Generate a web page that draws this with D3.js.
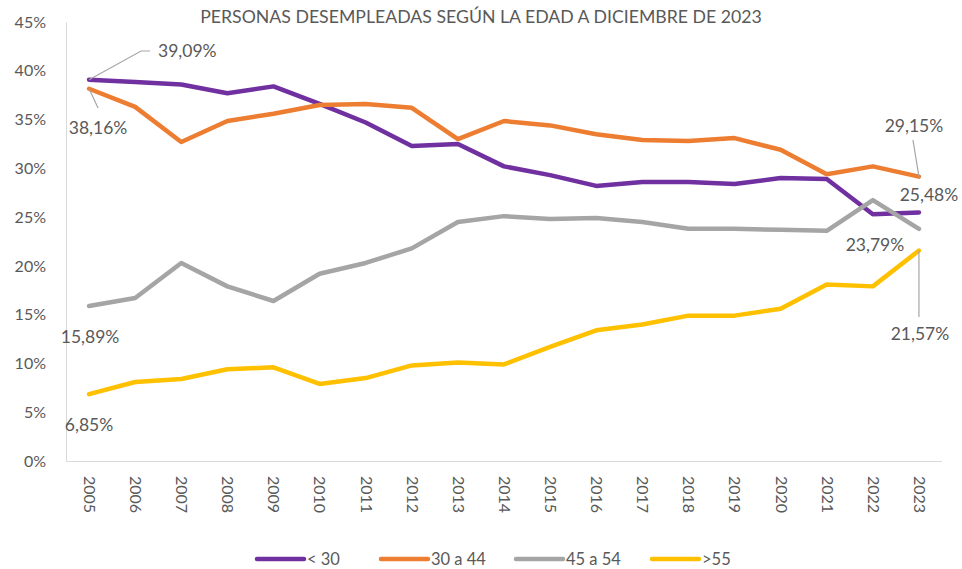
<!DOCTYPE html>
<html><head><meta charset="utf-8">
<script src="https://cdn.jsdelivr.net/npm/d3@7"></script>
<style>body{margin:0;background:#fff;} svg{display:block;font-family:Lato, "Open Sans", sans-serif;}</style>
</head><body>
<svg id="c" width="962" height="569"></svg>
<script>
const years = ["2005","2006","2007","2008","2009","2010","2011","2012","2013","2014","2015","2016","2017","2018","2019","2020","2021","2022","2023"];
const seriesNames = ["< 30","30 a 44","45 a 54",">55"];
const under30 = [39.09,38.85,38.6,37.7,38.4,36.6,34.7,32.3,32.5,30.2,29.3,28.2,28.6,28.6,28.4,29.0,28.9,25.3,25.48];
const age30to44 = [38.16,36.3,32.7,34.85,35.6,36.5,36.6,36.2,33.0,34.85,34.4,33.5,32.9,32.8,33.1,31.9,29.4,30.2,29.15];
const age45to54 = [15.89,16.7,20.3,17.9,16.4,19.2,20.3,21.8,24.5,25.1,24.8,24.9,24.5,23.8,23.8,23.7,23.6,26.75,23.79];
const over55 = [6.85,8.1,8.4,9.4,9.6,7.9,8.5,9.8,10.1,9.9,11.7,13.4,14.0,14.9,14.9,15.6,18.1,17.9,21.57];
const yTicks = [0,5,10,15,20,25,30,35,40,45];
const colors = ["#7030A0","#ED7D31","#A5A5A5","#FFC000"];
const title = "PERSONAS DESEMPLEADAS SEGÚN LA EDAD A DICIEMBRE DE 2023";

const svg = d3.select("#c");
const x = d3.scalePoint().domain(years).range([66,942]).padding(0.5);
const y = d3.scaleLinear().domain([0,45]).range([461,22]);
const fmt = v => d3.format(".2f")(v).replace(".",",") + "%";
const txt = "#595959";

svg.append("text").attr("x",481).attr("y",23).attr("text-anchor","middle")
  .attr("font-size",17.7).attr("fill",txt).text(title);

// y axis
const ya = svg.append("g").attr("transform","translate(66,0)")
  .call(d3.axisLeft(y).tickValues(yTicks).tickSize(0).tickPadding(20).tickFormat(d=>d+"%"));
ya.select(".domain").attr("stroke","#D9D9D9");
ya.selectAll("text").attr("font-size",16).attr("fill",txt).attr("font-family","Lato");

// x axis
const xa = svg.append("g").attr("transform","translate(0,461)")
  .call(d3.axisBottom(x).tickSize(0).tickSizeOuter(0));
xa.select(".domain").attr("stroke","#D9D9D9").attr("d","M66,0.5H942");
xa.selectAll("text").attr("font-size",16).attr("fill",txt).attr("font-family","Lato")
  .attr("transform","rotate(90)").attr("text-anchor","start").attr("dy","0.35em").attr("x",15).attr("y",0);

const data = [under30, age30to44, age45to54, over55];
const line = d3.line().x((d,i)=>x(years[i])).y(d=>y(d));
data.forEach((s,k)=>{
  svg.append("path").datum(s).attr("d",line).attr("fill","none")
    .attr("stroke",colors[k]).attr("stroke-width",4.5).attr("stroke-linejoin","round").attr("stroke-linecap","round");
});

// labels
const lead = "#A6A6A6";
const first = 0, last = years.length-1;
const lbl = (xx,yy,t,anchor) => svg.append("text").attr("x",xx).attr("y",yy).attr("dy","0.35em")
  .attr("text-anchor",anchor||"middle").attr("font-size",17.5).attr("fill",txt).text(t);
const leader = pts => svg.append("path").attr("d",d3.line()(pts)).attr("fill","none").attr("stroke",lead).attr("stroke-width",1.2);

const x0 = x(years[first]), xN = x(years[last]);
leader([[x0,y(under30[first])],[x0+52,51],[x0+61,51]]);
lbl(x0+69,51,fmt(under30[first]),"start");
leader([[x0,y(age30to44[first])],[x0+9,108]]);
lbl(x0+9,128,fmt(age30to44[first]));
lbl(x0+1,337,fmt(age45to54[first]));
lbl(x0,425,fmt(over55[first]));
leader([[xN,y(age30to44[last])],[xN-6,140]]);
lbl(xN-5,126,fmt(age30to44[last]));
lbl(xN+10,195,fmt(under30[last]));
lbl(xN-44,245,fmt(age45to54[last]));
leader([[xN,y(over55[last])],[xN,317]]);
lbl(xN+1,334,fmt(over55[last]));

// legend
const lx = [257,381,516,652];
seriesNames.forEach((n,k)=>{
  svg.append("line").attr("x1",lx[k]).attr("x2",lx[k]+47).attr("y1",559).attr("y2",559)
    .attr("stroke",colors[k]).attr("stroke-width",4.5).attr("stroke-linecap","round");
  svg.append("text").attr("x",lx[k]+50).attr("y",559).attr("dy","0.35em")
    .attr("font-size",16.5).attr("fill",txt).text(n);
});
</script>
</body></html>
